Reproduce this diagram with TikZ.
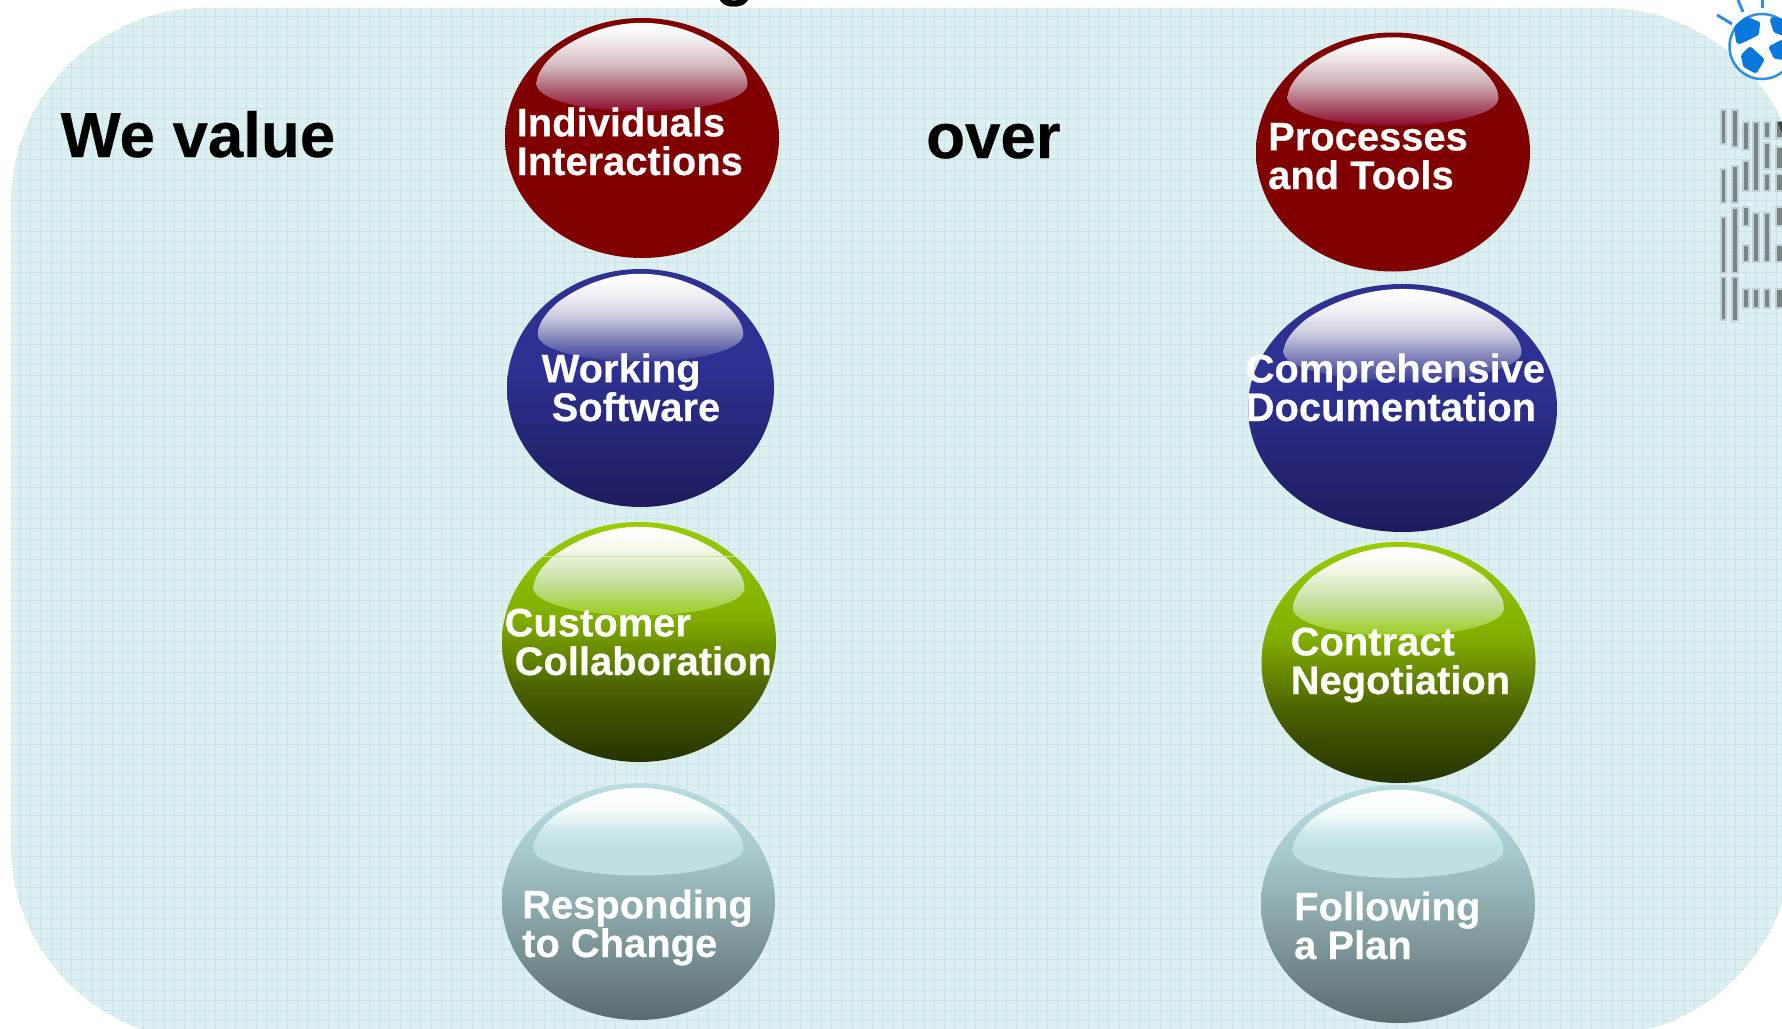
\documentclass[tikz,border=0pt]{standalone}
\usepackage{fontspec}
\setmainfont{Liberation Sans}[BoldFeatures={FakeBold=0.4}]
\definecolor{bgfill}{HTML}{DDEFF1}
\definecolor{gridline}{HTML}{C9E5E7}
\definecolor{logobar}{HTML}{788385}
\definecolor{logohalo}{HTML}{C2D2D4}
\definecolor{globeblue}{HTML}{0A78DC}
\definecolor{globering}{HTML}{2F90E0}
\pgfdeclareverticalshading{redbody}{100bp}{rgb(0bp)=(.5,0,0);rgb(100bp)=(.5,0,0)}
\definecolor{gA}{HTML}{99CC00}\definecolor{gB}{HTML}{82AD00}\definecolor{gC}{HTML}{4A6000}\definecolor{gD}{HTML}{263300}
\definecolor{bA}{HTML}{2E3192}\definecolor{bD}{HTML}{1E1C5C}
\definecolor{sA}{HTML}{B9DEE2}\definecolor{sB}{HTML}{A5C8CA}\definecolor{sC}{HTML}{85A0A3}\definecolor{sD}{HTML}{5B6B6E}
\definecolor{rD}{HTML}{8C0A2C}\definecolor{rM}{HTML}{D0B5BA}\definecolor{rN}{HTML}{EDE2E4}
\definecolor{uD}{HTML}{3F419C}\definecolor{uM}{HTML}{C8C8DD}\definecolor{uN}{HTML}{6466AA}\definecolor{uP}{HTML}{EEEEF4}
\definecolor{hD}{HTML}{9CCC20}\definecolor{hM}{HTML}{C8E0A4}\definecolor{hN}{HTML}{F2F7E6}
\definecolor{kD}{HTML}{BEE0E3}\definecolor{kM}{HTML}{CCE8EA}\definecolor{kN}{HTML}{F6FBFB}
\pgfdeclareverticalshading{bluebodyb}{100bp}{color(0bp)=(bD);color(25bp)=(bD);color(55bp)=(bA);color(100bp)=(bA)}
\pgfdeclareverticalshading{greenbody}{100bp}{color(0bp)=(gD);color(25bp)=(gD);color(40bp)=(gC);color(55bp)=(gB);color(75bp)=(gA);color(100bp)=(gA)}
\pgfdeclareverticalshading{graybody}{100bp}{color(0bp)=(sD);color(25bp)=(sD);color(45bp)=(sC);color(60bp)=(sB);color(75bp)=(sA);color(100bp)=(sA)}
\pgfdeclareverticalshading{redhl}{100bp}{color(0bp)=(rD);color(25bp)=(rD);color(50bp)=(rM);color(62bp)=(rN);color(73bp)=(white);color(100bp)=(white)}
\pgfdeclareverticalshading{bluehl}{100bp}{color(0bp)=(uD);color(25bp)=(uD);color(33bp)=(uN);color(50bp)=(uM);color(62bp)=(uP);color(73bp)=(white);color(100bp)=(white)}
\pgfdeclareverticalshading{greenhl}{100bp}{color(0bp)=(hD);color(25bp)=(hD);color(45bp)=(hM);color(62bp)=(hN);color(72bp)=(white);color(100bp)=(white)}
\pgfdeclareverticalshading{grayhl}{100bp}{color(0bp)=(kD);color(25bp)=(kD);color(40bp)=(kD);color(50bp)=(kM);color(62bp)=(kN);color(72bp)=(white);color(100bp)=(white)}
\newcommand{\bgoutline}{(206,8) -- (1605,8) arc[start angle=90,end angle=0,radius=195pt] -- (1792,841) arc[start angle=0,end angle=-90,radius=195pt] -- (206,1040) arc[start angle=270,end angle=180,radius=195pt] -- (11,203) arc[start angle=180,end angle=90,radius=195pt] -- cycle}
\newcommand{\bubble}[6]{%
 \path[shading=#5] (#1,#2) ellipse [x radius=#3pt,y radius=#4pt];
 \begin{scope}[shift={(#1,#2)},x=#3pt,y=#4pt]
  \path[shading=#6] (0,.96) .. controls (.28,.96) and (.50,.82) .. (.62,.72)
    .. controls (.72,.62) and (.77,.53) .. (.77,.45)
    .. controls (.77,.323) and (.425,.22) .. (0,.22)
    .. controls (-.425,.22) and (-.77,.323) .. (-.77,.45)
    .. controls (-.77,.53) and (-.72,.62) .. (-.62,.72)
    .. controls (-.50,.82) and (-.28,.96) .. (0,.96) -- cycle;
 \end{scope}}
\tikzset{
 bubbletext/.style={font=\bfseries\fontsize{39.9}{38.6}\selectfont,text=white,align=left,inner sep=0pt,anchor=base west},
 bigtext/.style={font=\bfseries\fontsize{63.6}{70}\selectfont,text=black,inner sep=0pt,anchor=base west},
 logoseg/.style={fill=logobar,draw=logohalo,line width=2.2pt},
 continent/.style={fill=globeblue,draw=globeblue,line width=6pt,line join=round},
 globeray/.style={draw=globering,line width=3pt}
}
\begin{document}
\begin{tikzpicture}[x=1pt,y=-1pt]
\useasboundingbox (0,0) rectangle (1782,1028);
\fill[white] (0,0) rectangle (1782,1028);
\node[bigtext] (titlefrag) at (715,-7) {g};
% panel
\fill[bgfill] \bgoutline;
\begin{scope}
 \clip \bgoutline;
 \foreach \k in {0,...,174} \draw[gridline,line width=1pt] ({10+10.27*\k},0) -- ({10+10.27*\k},1040);
 \foreach \k in {0,...,101} \draw[gridline,line width=1pt] (0,{6+10.25*\k}) -- (1800,{6+10.25*\k});
\end{scope}
% globe
\fill[white] (1762,46.5) circle[radius=33.5pt];
\draw[globering,line width=2.5pt] (1762,46.5) circle[radius=32.5pt];
\begin{scope}
 \clip (0,0) rectangle (1782,1028);
 \draw[continent] (1737,28) -- (1747,20) -- (1757,24) -- (1756,33) -- (1744,39) -- (1739,41) -- cycle;
 \draw[continent] (1744,56) -- (1750,50) -- (1761,60) -- (1755,70) -- (1746,65) -- cycle;
 \draw[continent] (1773,20) -- (1784,22) -- (1784,33) -- (1776,30) -- cycle;
 \draw[continent] (1772,48) -- (1784,42) -- (1784,57) -- (1776,56) -- cycle;
\end{scope}
\draw[globeray] (1717,15) -- (1732,24);
\draw[globeray] (1738,0) -- (1743,12);
\draw[globeray] (1762,0) -- (1762,8);
% logo
\begin{scope}[shift={(1680,0)},x=.3333pt,y=-.3333pt]
 \foreach \xa/\xb/\ya/\yb in {
  122/138/330/432,122/138/507/610,122/138/650/818,122/138/832/960,
  155/173/330/442,155/173/497/610,155/173/625/818,155/173/832/962,
  190/208/365/450,190/208/483/573,190/208/622/678,190/208/735/785,190/208/868/925,
  220/236/365/573,220/236/640/785,220/236/868/925,
  252/270/365/415,252/270/430/508,252/270/522/573,252/270/640/785,252/270/868/925,
  288/310/365/415,288/310/440/508,288/310/522/573,288/310/622/678,288/310/735/785,288/310/868/925}
  \path[logoseg] (\xa,\ya) rectangle (\xb,\yb);
 \fill[black!75] (292,365) -- (310,365) -- (310,410) -- cycle;
\end{scope}
% bubbles
\bubble{642}{138}{137}{120}{redbody}{redhl}
\bubble{640.5}{388}{133.5}{119}{bluebodyb}{bluehl}
\bubble{639}{642}{137}{120}{greenbody}{greenhl}
\bubble{638.5}{901.5}{136.5}{118.5}{graybody}{grayhl}
\bubble{1393}{152}{137}{119.5}{redbody}{redhl}
\bubble{1402.5}{408}{154.5}{124}{bluebodyb}{bluehl}
\bubble{1398.5}{662.5}{137}{120.5}{greenbody}{greenhl}
\bubble{1398}{904}{137}{119}{graybody}{grayhl}
\draw[hM,line width=1pt] (543,556) -- (735,556);
% labels
\node[bigtext] (wevalue) at (60.5,157) {We value};
\node[bigtext] (over) at (926,158) {over};
\node[bubbletext] (t1) at (516.5,175) {Individuals\\Interactions};
\node[bubbletext] (t2) at (541.5,421) {Working\\\hspace*{10pt}Software};
\node[bubbletext] (t3) at (504.5,675) {Customer\\\hspace*{10pt}Collaboration};
\node[bubbletext] (t4) at (522,957) {Responding\\to Change};
\node[bubbletext] (t5) at (1268,189) {Processes\\and Tools};
\node[bubbletext] (t6) at (1245.5,421) {Comprehensive\\Documentation};
\node[bubbletext] (t7) at (1290.5,694) {Contract\\Negotiation};
\node[bubbletext] (t8) at (1294,959) {Following\\a Plan};
\end{tikzpicture}
\end{document}
